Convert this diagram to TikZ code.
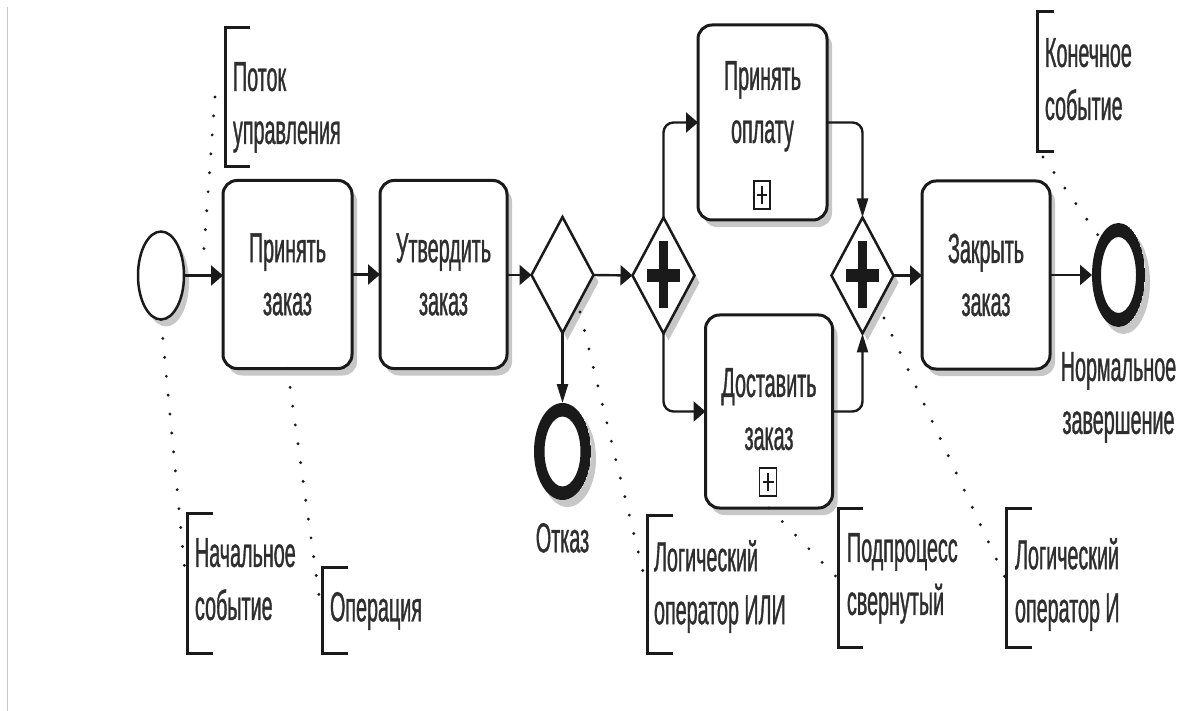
\documentclass[tikz,border=0pt]{standalone}
\usepackage{fontspec}
\newfontfamily\nf[FakeStretch=0.47,FakeBold=0.8]{Liberation Sans}
\usetikzlibrary{arrows.meta,shapes.geometric,shadows}
\definecolor{ink}{HTML}{1A1A1A}
\definecolor{txt}{HTML}{2E2E2E}
\begin{document}
\begin{tikzpicture}[x=1pt,y=-1pt,
  every node/.style={font=\nf\fontsize{42}{53}\selectfont, text=txt, inner sep=0pt, outer sep=0pt},
  softshadow/.style={drop shadow={shadow xshift=5pt,shadow yshift=-7pt,opacity=0.22,fill=black}},
  task/.style={softshadow, draw=ink, line width=3pt, rounded corners=14pt, fill=white,
    minimum width=128pt, minimum height=188pt, align=center},
  gate/.style={softshadow, diamond, draw=ink, line width=2.5pt, fill=white,
    minimum width=62pt, minimum height=116pt},
  andgate/.style={gate, path picture={
    \fill[ink] ([xshift=-4.5pt,yshift=-33pt]path picture bounding box.center) rectangle ([xshift=4.5pt,yshift=34pt]path picture bounding box.center);
    \fill[ink] ([xshift=-16.5pt,yshift=-6.5pt]path picture bounding box.center) rectangle ([xshift=16.5pt,yshift=6.5pt]path picture bounding box.center);}},
  startev/.style={softshadow, ellipse, draw=ink, line width=2.5pt, fill=white,
    minimum width=46pt, minimum height=88pt},
  endev/.style n args={4}{softshadow, ellipse, fill=white, minimum width=2*#1, minimum height=2*#2,
    path picture={\fill[ink,even odd rule]
      (path picture bounding box.center) ellipse [x radius=#1, y radius=#2]
      (path picture bounding box.center) ellipse [x radius=#3, y radius=#4];}},
  subbox/.style={draw=ink, line width=1.8pt, fill=white, minimum width=16pt, minimum height=28pt,
    path picture={
      \draw[ink,line width=2.2pt] ([yshift=-5pt]path picture bounding box.north) -- ([yshift=5pt]path picture bounding box.south);
      \draw[ink,line width=2.2pt] ([xshift=3pt]path picture bounding box.west) -- ([xshift=-3pt]path picture bounding box.east);}},
  flow/.style={draw=ink, line width=2.4pt},
  ha/.style={-{Triangle[length=12pt,width=20pt]}},
  va/.style={-{Triangle[length=19pt,width=11pt]}},
  bracketline/.style={draw=ink, line width=3pt},
  assoc/.style={draw=ink, line width=3.2pt, line cap=round, dash pattern=on 0pt off 19pt},
  annotext/.style={anchor=north west, align=left}
]
\fill[white] (0,0) rectangle (1181,711);
\useasboundingbox (0,0) rectangle (1181,711);
\draw[black!22, line width=1.5pt] (7.5,7) -- (7.5,711);

% events, activities and gateways
\node[startev] (start) at (161,275.5) {};
\node[task, minimum width=129pt] (t1) at (287.5,274.5) {Принять\\заказ};
\node[task, minimum width=127pt] (t2) at (443.5,274.5) {Утвердить\\заказ};
\node[gate] (xor) at (562.5,275) {};
\node[endev={28.5pt}{48.5pt}{18pt}{35pt}] (otk) at (562.5,451.5) {};
\node[andgate] (and1) at (663.5,275.5) {};
\node[task, minimum width=129pt, minimum height=195pt] (pay) at (762.5,122.5) {};
\node[anchor=north, align=center] (paytxt) at (762.5,61) {Принять\\оплату};
\node[subbox] (paysub) at (762,195) {};
\node[task, minimum width=127pt, minimum height=193pt] (dlv) at (769,411.5) {};
\node[anchor=north, align=center] (dlvtxt) at (769,368) {Доставить\\заказ};
\node[subbox, minimum width=17pt] (dlvsub) at (768,482) {};
\node[andgate] (and2) at (862.5,275.5) {};
\node[task] (close) at (986,275) {Закрыть\\заказ};
\node[endev={26.5pt}{52pt}{17.5pt}{38pt}] (end) at (1118.5,275) {};

% event labels
\node[anchor=north] (otklbl) at (562.5,523) {Отказ};
\node[anchor=north, align=center] (endlbl) at (1118.5,352) {Нормальное\\завершение};

% sequence flows
\draw[flow,ha] (start) -- (t1.west |- start);
\draw[flow,ha] (t1.east) -- (t2.west);
\draw[flow,ha] (t2.east |- xor) -- (xor.west);
\draw[flow,ha] (xor.east) -- (and1.west);
\draw[flow,va] (xor.south) -- (otk.north);
\draw[flow,ha,rounded corners=10pt] (and1.north) |- (pay.west);
\draw[flow,ha,rounded corners=10pt] (and1.south) |- (dlv.west);
\draw[flow,va,rounded corners=10pt] (pay.east) -| (and2.north);
\draw[flow,va,rounded corners=10pt] (dlv.east) -| (and2.south);
\draw[flow,ha] (and2.east) -- (close.west |- and2);
\draw[flow,ha] (close.east) -- (end.west);

% annotations
\node[annotext] (n1) at (233,62) {Поток\\управления};
\draw[bracketline] (250,28) -| (225,167) -- (250,167);
\node[annotext] (n7) at (1045,38) {Конечное\\событие};
\draw[bracketline] (1054,12) -| (1037,152) -- (1054,152);
\node[annotext] (n2) at (195,538) {Начальное\\событие};
\draw[bracketline] (213,513) -| (187,653) -- (213,653);
\node[annotext] (n3) at (330,592) {Операция};
\draw[bracketline] (348,567) -| (322,653) -- (348,653);
\node[annotext] (n4) at (654,540) {Логический\\оператор ИЛИ};
\draw[bracketline] (673,515) -| (647,653) -- (673,653);
\node[annotext] (n5) at (847,533) {Подпроцесс\\свернутый};
\draw[bracketline] (863,508) -| (838,647) -- (863,647);
\node[annotext] (n6) at (1015,538) {Логический\\оператор И};
\draw[bracketline] (1032,508) -| (1006,647) -- (1032,647);

% association ends
\coordinate (n1a) at (215,97);
\coordinate (f1a) at (203,262);
\coordinate (n2a) at (186,583);
\coordinate (n3a) at (321,610);
\coordinate (xora) at (580,312);
\coordinate (n4a) at (646,584);
\coordinate (n5a) at (837,577.5);
\coordinate (and2a) at (884,318);
\coordinate (n6a) at (1005,577.5);
\coordinate (n7a) at (1043,157);
\coordinate (enda) at (1100,238);

\draw[assoc] (n1a) -- (f1a);
\draw[assoc] (start.south) -- (n2a);
\draw[assoc] (t1.south) -- (n3a);
\draw[assoc] (xora) -- (n4a);
\draw[assoc] (dlv.south) -- (n5a);
\draw[assoc] (and2a) -- (n6a);
\draw[assoc] (n7a) -- (enda);
\end{tikzpicture}
\end{document}
